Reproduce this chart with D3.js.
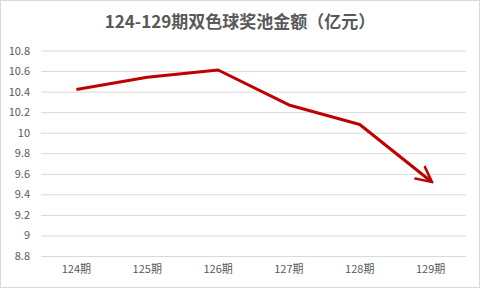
<!DOCTYPE html>
<html><head><meta charset="utf-8">
<script src="https://cdn.jsdelivr.net/npm/d3@7"></script>
<style>body{margin:0;background:#fff}svg{display:block}</style>
</head><body>
<script>
const categories = ["124期","125期","126期","127期","128期","129期"];
const values = [10.42, 10.54, 10.61, 10.27, 10.08, 9.53];
const yTicks = [8.8, 9, 9.2, 9.4, 9.6, 9.8, 10, 10.2, 10.4, 10.6, 10.8];
const title = "124-129期双色球奖池金额（亿元）";

const W = 480, H = 288;
const svg = d3.select("body").append("svg").attr("width", W).attr("height", H);
svg.append("rect").attr("x",0.5).attr("y",0.5).attr("width",W-1).attr("height",H-1)
  .attr("fill","#fff").attr("stroke","#d9d9d9");

const font = "'Microsoft YaHei','Noto Sans CJK SC',sans-serif";
const x = d3.scaleBand().domain(categories).range([41, 466]);
const y = d3.scaleLinear().domain([8.8, 10.8]).range([256, 50.5]);

svg.append("text").attr("x", 240).attr("y", 28).attr("text-anchor","middle")
  .attr("font-family", font).attr("font-weight","bold").attr("font-size", 17)
  .attr("fill","#595959").text(title);

const yAxis = d3.axisLeft(y).tickValues(yTicks).tickSize(-(466-41)).tickFormat(d => String(d));
const gy = svg.append("g").attr("transform","translate(41,0)").call(yAxis);
gy.select(".domain").remove();
gy.selectAll(".tick line").attr("stroke","#d9d9d9");
gy.selectAll(".tick text").attr("x", -11).attr("font-family", font).attr("font-size", 11).attr("fill","#595959");

const xAxis = d3.axisBottom(x).tickSize(0).tickPadding(9);
const gx = svg.append("g").attr("transform","translate(0,256)").call(xAxis);
gx.select(".domain").remove();
gx.selectAll(".tick text").attr("font-family", font).attr("font-size", 11).attr("fill","#595959");

svg.append("defs").append("marker").attr("id","arr").attr("viewBox","0 0 10 10")
  .attr("refX", 8).attr("refY", 5).attr("markerWidth", 6).attr("markerHeight", 6)
  .attr("orient","auto").append("path").attr("d","M0,0.5 L9,5 L0,9.5")
  .attr("fill","none").attr("stroke","#C00000").attr("stroke-width",1.4);

const line = d3.line().x((d,i) => x(categories[i]) + x.bandwidth()/2).y(d => y(d));
svg.append("path").datum(values).attr("d", line).attr("fill","none")
  .attr("stroke","#C00000").attr("stroke-width", 3).attr("stroke-linejoin","round")
  .attr("marker-end","url(#arr)");
</script>
</body></html>
